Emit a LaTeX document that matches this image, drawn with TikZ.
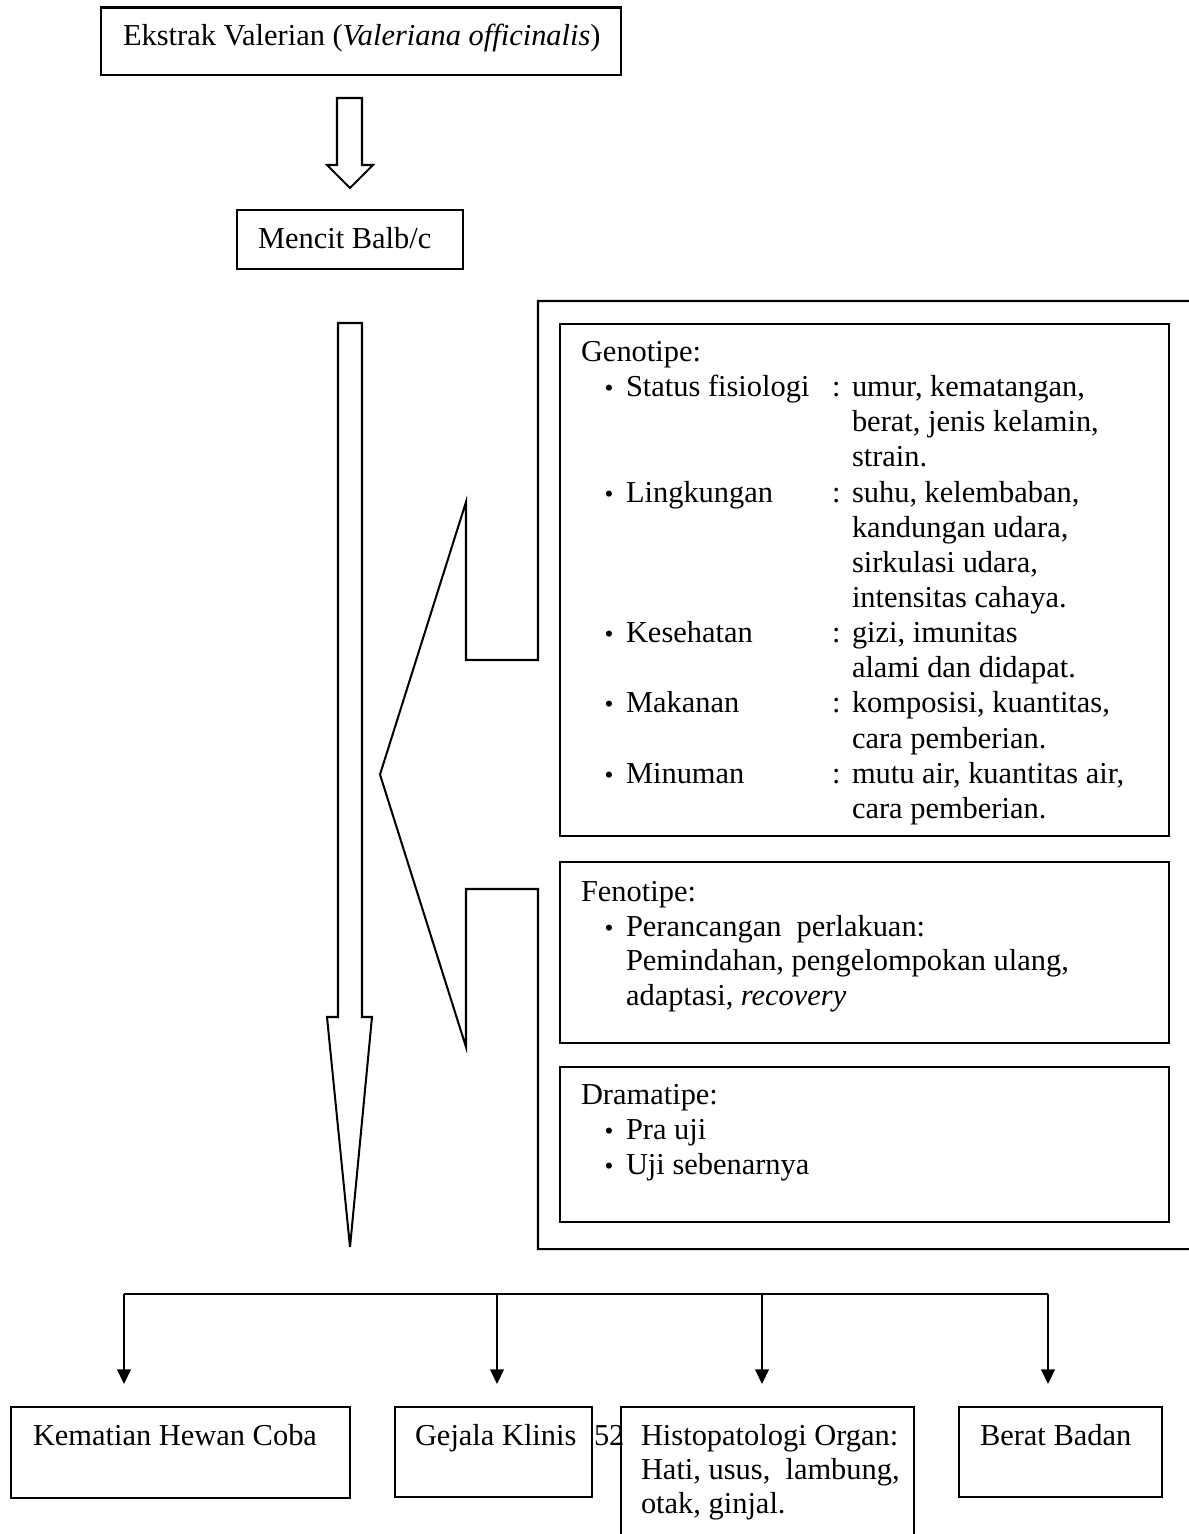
\documentclass[tikz,border=0pt]{standalone}
\usepackage{fontspec}
\setmainfont{Liberation Serif}
\usetikzlibrary{arrows.meta,fit}
\begin{document}
\begin{tikzpicture}[x=0.3943pt,y=-0.3943pt,
  line width=0.8pt, line join=miter,
  box/.style={draw, rectangle, inner sep=0pt},
  txt/.style={anchor=base west, inner sep=0pt, font=\fontsize{12}{13.8}\selectfont},
  bul/.style={anchor=base, inner sep=0pt, font=\fontsize{10}{12}\selectfont},
  conn/.style={-{Triangle[width=5.4pt,length=5.8pt]}},
  hollow/.style={draw, line width=0.8pt}
]
\useasboundingbox (0,0) rectangle (1189,1534);

% ---------- top part ----------
\node[box, fit={(101,7.5) (621,75)}] (top) {};
\node[txt] (toptxt) at (122,45) {Ekstrak Valerian (\textit{Valeriana officinalis})};

\draw[hollow] (337,98) -- (362,98) -- (362,165) -- (373,165) -- (350,188)
  -- (327,165) -- (337,165) -- cycle;

\node[box, fit={(237,210) (463,269)}] (mencit) {};
\node[txt] (mencittxt) at (257,248) {Mencit Balb/c};

% ---------- long hollow arrow ----------
\draw[hollow] (338,323) -- (362,323) -- (362,1017) -- (372,1017) -- (350,1247)
  -- (327,1017) -- (338,1017) -- cycle;

% ---------- callout bracket ----------
\draw (1192,301) -- (538,301) -- (538,660) -- (466,660) -- (466,502)
  -- (380,774.5) -- (466,1047) -- (466,889) -- (538,889) -- (538,1249) -- (1192,1249);

% ---------- Genotipe ----------
\node[box, fit={(560,324) (1169,836)}] (geno) {};
\node[txt] (gT) at (580,361) {Genotipe:};

\node[bul] (gb1) at (609,396) {\textbullet};
\node[txt] (gl1) at (625,396) {Status fisiologi};
\node[txt] (gc1) at (831,396) {:};
\node[txt] (gv1a) at (851,396) {umur, kematangan,};
\node[txt] (gv1b) at (851,431) {berat, jenis kelamin,};
\node[txt] (gv1c) at (851,466) {strain.};

\node[bul] (gb2) at (609,502) {\textbullet};
\node[txt] (gl2) at (625,502) {Lingkungan};
\node[txt] (gc2) at (831,502) {:};
\node[txt] (gv2a) at (851,502) {suhu, kelembaban,};
\node[txt] (gv2b) at (851,537) {kandungan udara,};
\node[txt] (gv2c) at (851,572) {sirkulasi udara,};
\node[txt] (gv2d) at (851,607) {intensitas cahaya.};

\node[bul] (gb3) at (609,642) {\textbullet};
\node[txt] (gl3) at (625,642) {Kesehatan};
\node[txt] (gc3) at (831,642) {:};
\node[txt] (gv3a) at (851,642) {gizi, imunitas};
\node[txt] (gv3b) at (851,677) {alami dan didapat.};

\node[bul] (gb4) at (609,712) {\textbullet};
\node[txt] (gl4) at (625,712) {Makanan};
\node[txt] (gc4) at (831,712) {:};
\node[txt] (gv4a) at (851,712) {komposisi, kuantitas,};
\node[txt] (gv4b) at (851,748) {cara pemberian.};

\node[bul] (gb5) at (609,783) {\textbullet};
\node[txt] (gl5) at (625,783) {Minuman};
\node[txt] (gc5) at (831,783) {:};
\node[txt] (gv5a) at (851,783) {mutu air, kuantitas air,};
\node[txt] (gv5b) at (851,818) {cara pemberian.};

% ---------- Fenotipe ----------
\node[box, fit={(560,862) (1169,1043)}] (feno) {};
\node[txt] (fT) at (580,901) {Fenotipe:};
\node[bul] (fb1) at (609,936) {\textbullet};
\node[txt] (fl1) at (625,936) {Perancangan\ \ perlakuan:};
\node[txt] (fl2) at (625,970) {Pemindahan, pengelompokan ulang,};
\node[txt] (fl3) at (625,1005) {adaptasi, \textit{recovery}};

% ---------- Dramatipe ----------
\node[box, fit={(560,1067) (1169,1222)}] (drama) {};
\node[txt] (dT) at (580,1104) {Dramatipe:};
\node[bul] (db1) at (609,1139) {\textbullet};
\node[txt] (dl1) at (625,1139) {Pra uji};
\node[bul] (db2) at (609,1174) {\textbullet};
\node[txt] (dl2) at (625,1174) {Uji sebenarnya};

% ---------- bottom branches ----------
\coordinate (hl) at (124,1294);
\coordinate (h2) at (497,1294);
\coordinate (h3) at (762,1294);
\coordinate (hr) at (1048,1294);
\coordinate (a1) at (124,1384);
\coordinate (a2) at (497,1384);
\coordinate (a3) at (762,1384);
\coordinate (a4) at (1048,1384);
\draw (hl) -- (hr);
\draw[conn] (hl) -- (a1);
\draw[conn] (h2) -- (a2);
\draw[conn] (h3) -- (a3);
\draw[conn] (hr) -- (a4);

\node[box, fit={(11,1407) (350,1498)}] (kematian) {};
\node[txt] (kemtxt) at (32,1445) {Kematian Hewan Coba};

\node[box, fit={(395,1407) (592,1497)}] (gejala) {};
\node[txt] (gejtxt) at (414,1445) {Gejala Klinis};

\node[txt] (pagenum) at (593,1445) {52};

\draw (621,1545) -- (621,1407) -- (914,1407) -- (914,1545);
\coordinate (histo) at (767,1407);
\node[txt] (histo1) at (640,1445) {Histopatologi Organ:};
\node[txt] (histo2) at (640,1479) {Hati, usus,\ \ lambung,};
\node[txt] (histo3) at (640,1513) {otak, ginjal.};

\node[box, fit={(959,1407) (1162,1497)}] (berat) {};
\node[txt] (berattxt) at (979,1445) {Berat Badan};
\end{tikzpicture}
\end{document}
